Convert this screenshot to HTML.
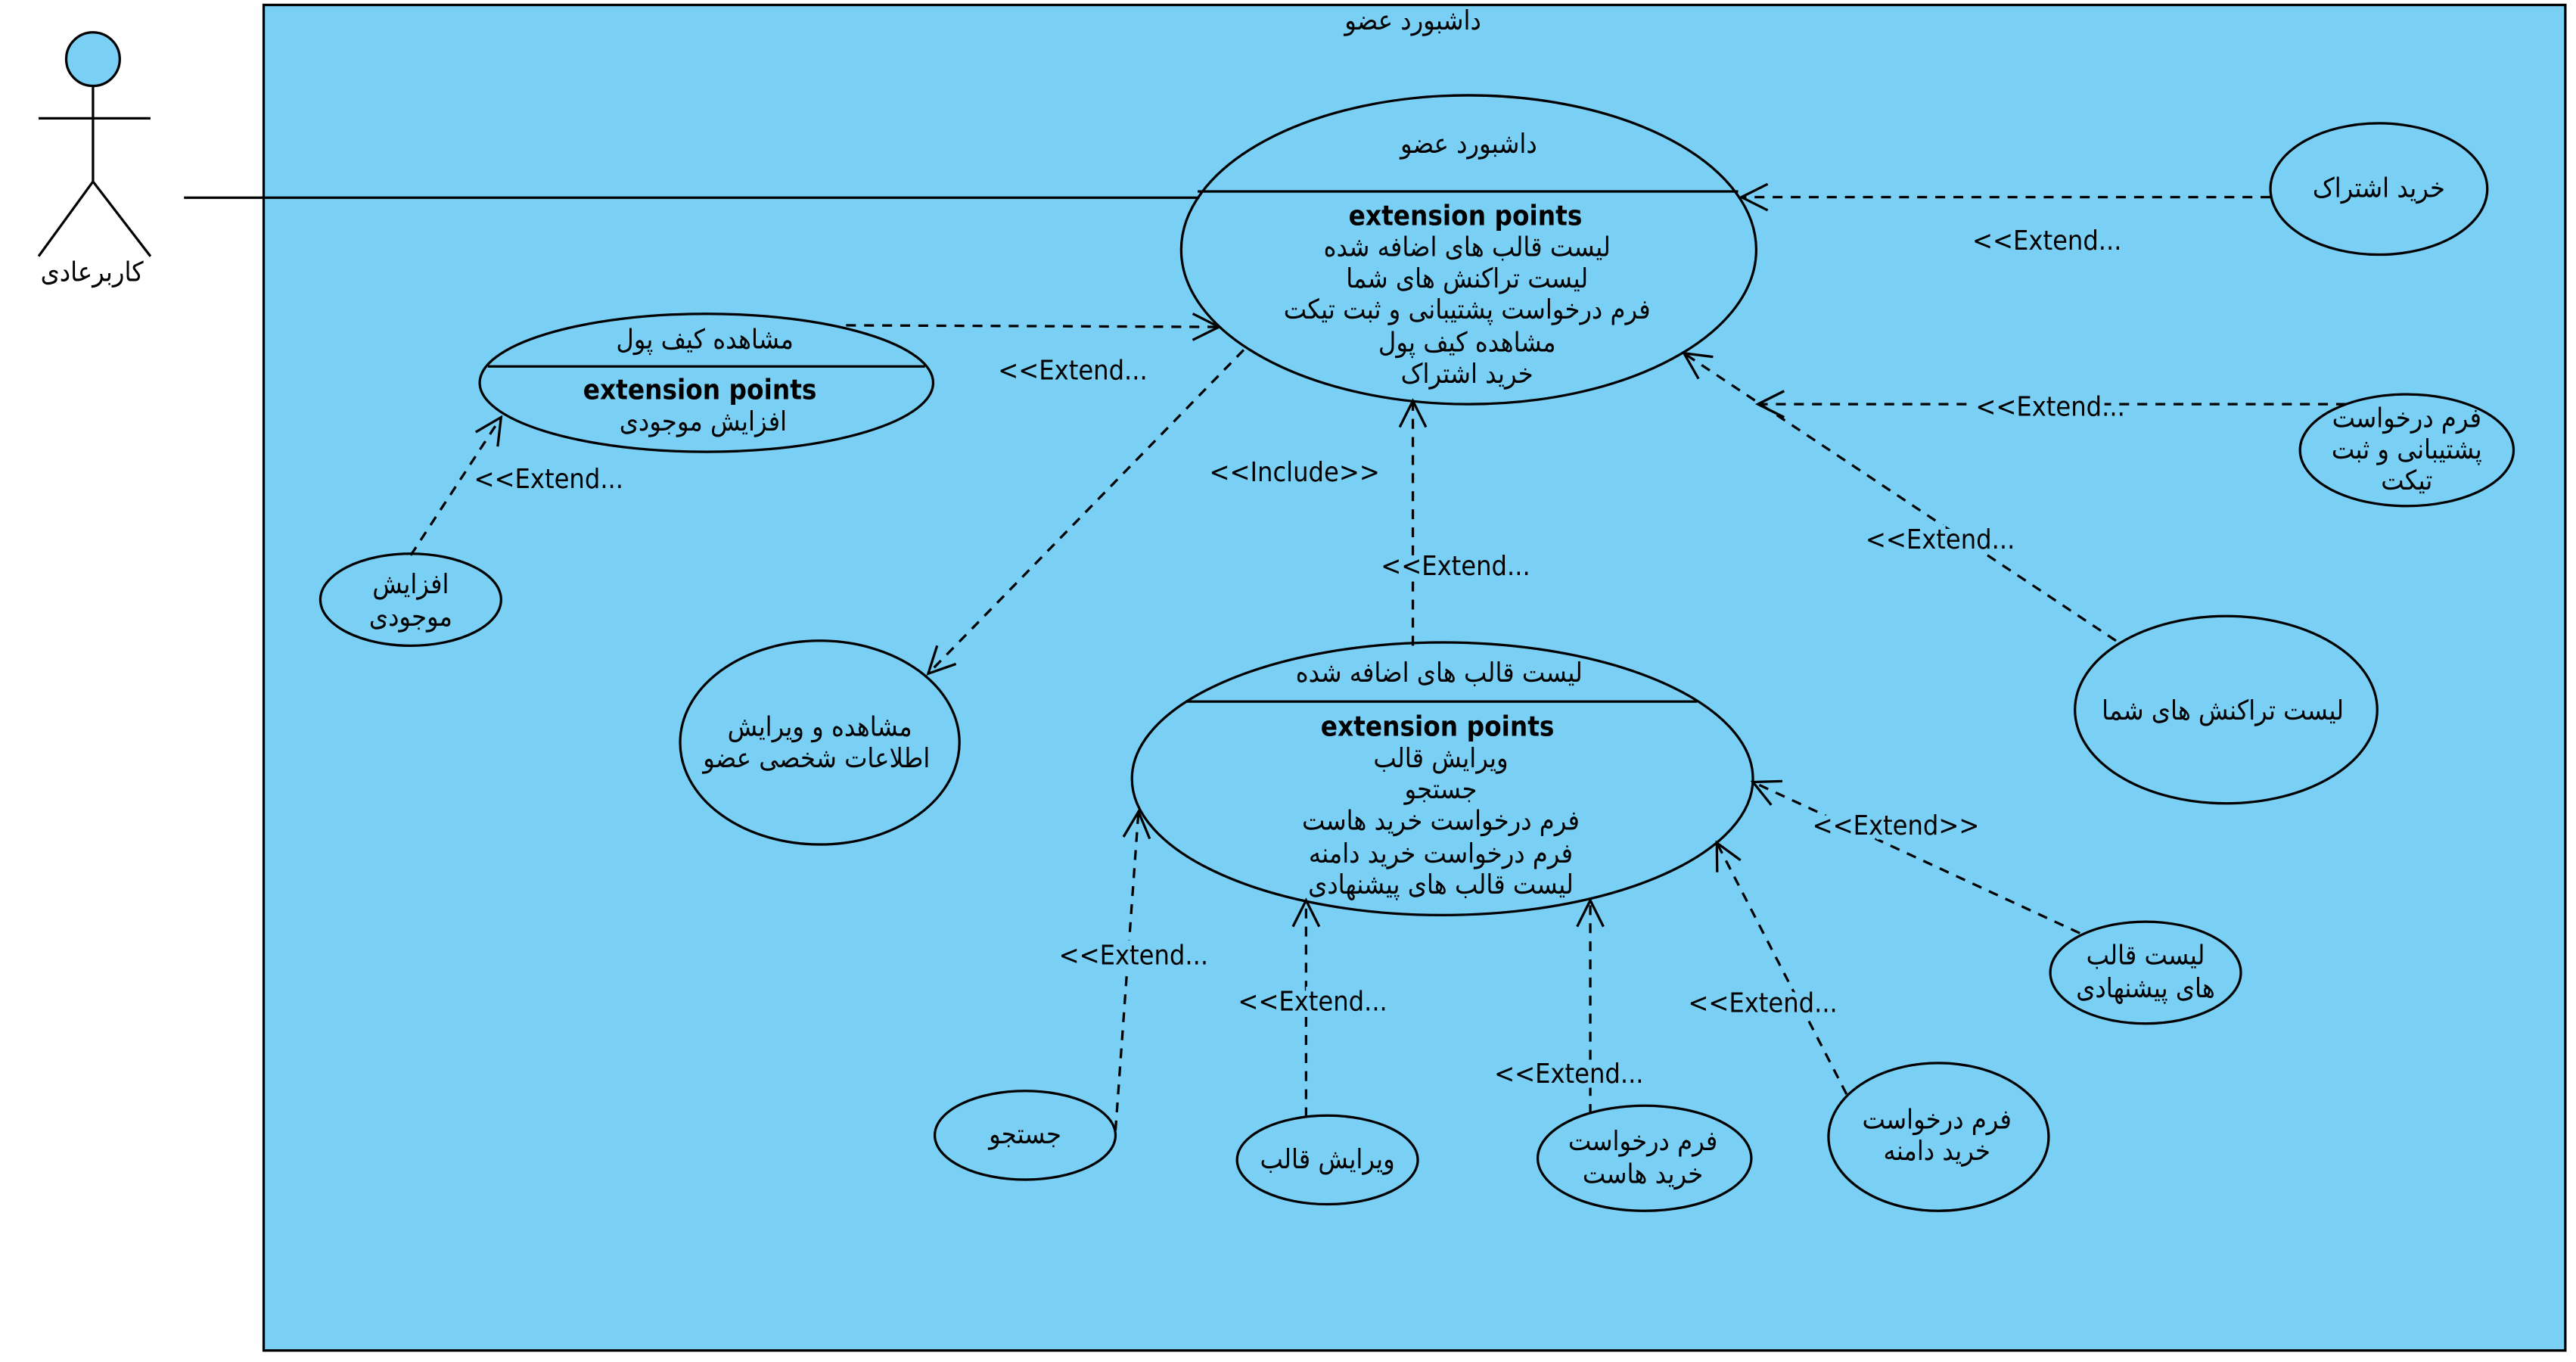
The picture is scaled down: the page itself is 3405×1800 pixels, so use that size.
<!DOCTYPE html>
<html><head><meta charset="utf-8"><style>
html,body{margin:0;padding:0;background:#fff;}
svg{display:block;}
text{font-family:"DejaVu Sans Condensed","DejaVu Sans","Noto Sans CJK SC",sans-serif;font-size:16.5px;fill:#000;text-anchor:middle;}
.lbl{paint-order:stroke;stroke:#7ACFF4;stroke-width:6px;}
.b{font-weight:bold;font-size:16.8px;}
</style></head><body>
<svg width="3405" height="1800" viewBox="0 0 1568 829" preserveAspectRatio="none" xmlns="http://www.w3.org/2000/svg">
<defs>
<marker id="a" markerUnits="userSpaceOnUse" markerWidth="22" markerHeight="22" refX="17" refY="9" orient="auto">
<path d="M1,1 L17,9 L1,17" fill="none" stroke="#000" stroke-width="1.5"/>
</marker>
</defs>
<rect x="0" y="0" width="1568" height="829" fill="#fff"/>
<rect x="160.5" y="3" width="1401" height="819" fill="#7ACFF4" stroke="#000" stroke-width="1.5"/>
<text x="860" y="18">داشبورد عضو</text>

<circle cx="56.6" cy="36" r="16.3" fill="#7ACFF4" stroke="#000" stroke-width="1.5"/>
<g stroke="#000" stroke-width="1.5" fill="none">
<line x1="56.6" y1="52" x2="56.6" y2="110.5"/>
<line x1="23.5" y1="72" x2="91.6" y2="72"/>
<line x1="56.6" y1="110.5" x2="23.5" y2="156"/>
<line x1="56.6" y1="110.5" x2="91.6" y2="156"/>
<line x1="112" y1="120.3" x2="730" y2="120.3"/>
</g>
<text x="56" y="171">کاربرعادی</text>

<g stroke="#000" stroke-width="1.5" fill="none">
<ellipse cx="894" cy="152" rx="175" ry="94"/>
<line x1="729" y1="116.5" x2="1058" y2="116.5"/>
<ellipse cx="430" cy="233" rx="138" ry="42"/>
<line x1="297" y1="223" x2="563" y2="223"/>
<ellipse cx="250" cy="365" rx="55" ry="28"/>
<ellipse cx="499" cy="452" rx="85" ry="62"/>
<ellipse cx="878" cy="474" rx="189" ry="83"/>
<line x1="722" y1="427" x2="1033" y2="427"/>
<ellipse cx="1448" cy="115" rx="66" ry="40"/>
<ellipse cx="1465" cy="274" rx="65" ry="34"/>
<ellipse cx="1355" cy="432" rx="92" ry="57"/>
<ellipse cx="1306" cy="592" rx="58" ry="31"/>
<ellipse cx="624" cy="691" rx="55" ry="27"/>
<ellipse cx="808" cy="706" rx="55" ry="27"/>
<ellipse cx="1001" cy="705" rx="65" ry="32"/>
<ellipse cx="1180" cy="692" rx="67" ry="45"/>
</g>

<g stroke="#000" stroke-width="1.5" fill="none" stroke-dasharray="6,5" marker-end="url(#a)">
<line x1="1382" y1="120" x2="1060" y2="120"/>
<line x1="1428" y1="246" x2="1070" y2="246"/>
<line x1="1288" y1="390" x2="1025" y2="215"/>
<line x1="515" y1="198" x2="742" y2="199"/>
<line x1="757" y1="213" x2="565" y2="410"/>
<line x1="860" y1="393" x2="860" y2="244"/>
<line x1="250" y1="338" x2="305" y2="254"/>
<line x1="679" y1="688" x2="693" y2="494"/>
<line x1="795" y1="680" x2="795" y2="548"/>
<line x1="968" y1="678" x2="968" y2="548"/>
<line x1="1124" y1="666" x2="1045" y2="513"/>
<line x1="1266" y1="568" x2="1067" y2="476"/>
</g>

<text class="lbl" x="1246" y="152">&lt;&lt;Extend...</text>
<text class="lbl" x="1248" y="253">&lt;&lt;Extend...</text>
<text class="lbl" x="1181" y="334">&lt;&lt;Extend...</text>
<text class="lbl" x="653" y="231">&lt;&lt;Extend...</text>
<text class="lbl" x="788" y="293">&lt;&lt;Include&gt;&gt;</text>
<text class="lbl" x="886" y="350">&lt;&lt;Extend...</text>
<text class="lbl" x="334" y="297">&lt;&lt;Extend...</text>
<text class="lbl" x="690" y="587">&lt;&lt;Extend...</text>
<text class="lbl" x="799" y="615">&lt;&lt;Extend...</text>
<text class="lbl" x="955" y="659">&lt;&lt;Extend...</text>
<text class="lbl" x="1073" y="616">&lt;&lt;Extend...</text>
<text class="lbl" x="1154" y="508">&lt;&lt;Extend&gt;&gt;</text>

<text x="894" y="93">داشبورد عضو</text>
<text class="b" x="892" y="137">extension points</text>
<text x="893" y="156">لیست قالب های اضافه شده</text>
<text x="893" y="175">لیست تراکنش های شما</text>
<text x="893" y="194">فرم درخواست پشتیبانی و ثبت تیکت</text>
<text x="893" y="214">مشاهده کیف پول</text>
<text x="893" y="233">خرید اشتراک</text>

<text x="429" y="212">مشاهده کیف پول</text>
<text class="b" x="426" y="243">extension points</text>
<text x="428" y="262">افزایش موجودی</text>

<text x="250" y="361">افزایش</text>
<text x="250" y="381">موجودی</text>

<text x="499" y="448">مشاهده و ویرایش</text>
<text x="497" y="467">اطلاعات شخصی عضو</text>

<text x="876" y="415">لیست قالب های اضافه شده</text>
<text class="b" x="875" y="448">extension points</text>
<text x="877" y="467">ویرایش قالب</text>
<text x="877" y="486">جستجو</text>
<text x="877" y="505">فرم درخواست خرید هاست</text>
<text x="877" y="525">فرم درخواست خرید دامنه</text>
<text x="877" y="544">لیست قالب های پیشنهادی</text>

<text x="1448" y="120">خرید اشتراک</text>
<text x="1465" y="260">فرم درخواست</text>
<text x="1465" y="279">پشتیبانی و ثبت</text>
<text x="1465" y="298">تیکت</text>
<text x="1353" y="438">لیست تراکنش های شما</text>
<text x="1306" y="587">لیست قالب</text>
<text x="1306" y="607">های پیشنهادی</text>
<text x="624" y="696">جستجو</text>
<text x="808" y="711">ویرایش قالب</text>
<text x="1000" y="700">فرم درخواست</text>
<text x="1000" y="720">خرید هاست</text>
<text x="1179" y="687">فرم درخواست</text>
<text x="1179" y="706">خرید دامنه</text>
</svg>
</body></html>
